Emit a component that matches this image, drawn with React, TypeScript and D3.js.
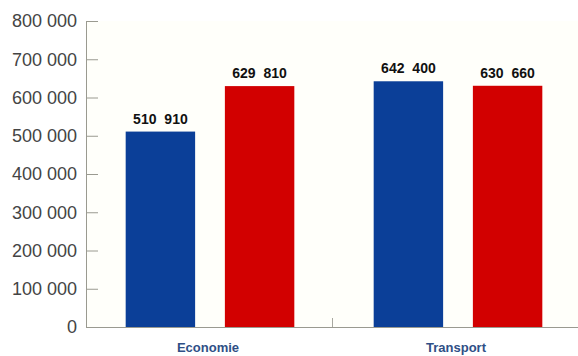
import React from "react";
import * as d3 from "d3";

const categories = ["Economie", "Transport"];
const series = ["A", "B"];
const seriesColors = ["#0b3f98", "#d20000"];
const valuesA = [510910, 642400];
const valuesB = [629810, 630660];
const yTicks = [0, 100000, 200000, 300000, 400000, 500000, 600000, 700000, 800000];

const W = 578;
const H = 356;
const left = 86;
const right = 582;
const top = 21;
const bottom = 327;

const fmt = (v: number) => d3.format(",")(v).replace(/,/g, " ");

export default function App() {
  const y = d3.scaleLinear().domain([0, 800000]).range([bottom, top]);
  const x = d3.scaleBand<string>().domain(categories).range([left, right]).padding(0);
  const xs = d3
    .scaleBand<string>()
    .domain(series)
    .range([0, x.bandwidth()])
    .paddingInner(0.3)
    .paddingOuter(0.4);
  const vals = [valuesA, valuesB];

  return (
    <svg
      width={W}
      height={H}
      style={{ position: "absolute", left: 0, top: 0, background: "#ffffff" }}
    >
      <rect x={left} y={top} width={W - left} height={bottom - top} fill="#fffffa" />
      {/* y axis */}
      <line x1={left + 0.5} x2={left + 0.5} y1={top} y2={bottom} stroke="#9a9a90" strokeWidth={1} />
      {yTicks.map((t) => (
        <g key={t}>
          {t > 0 && (
            <line x1={left} x2={left + 12} y1={y(t) + 0.5} y2={y(t) + 0.5} stroke="#9a9a90" strokeWidth={1} />
          )}
          <text
            x={77}
            y={y(t)}
            dy="0.36em"
            textAnchor="end"
            fontFamily="Liberation Sans, Arial, sans-serif"
            fontSize={18}
            fill="#444444"
          >
            {fmt(t)}
          </text>
        </g>
      ))}
      {/* x axis */}
      <line x1={left} x2={W} y1={bottom + 0.5} y2={bottom + 0.5} stroke="#9a9a90" strokeWidth={1.2} />
      <line
        x1={(x("Transport") as number) - 1.5}
        x2={(x("Transport") as number) - 1.5}
        y1={bottom - 9}
        y2={bottom}
        stroke="#a8a8a0"
        strokeWidth={1}
      />
      {categories.map((c, ci) => (
        <g key={c}>
          {series.map((s, si) => {
            const v = vals[si][ci];
            const bx = (x(c) as number) + (xs(s) as number);
            return (
              <g key={s}>
                <rect
                  x={bx}
                  y={y(v)}
                  width={xs.bandwidth()}
                  height={bottom - y(v)}
                  fill={seriesColors[si]}
                />
                <text
                  x={bx + xs.bandwidth() / 2}
                  y={y(v) - 8}
                  textAnchor="middle"
                  fontFamily="Liberation Sans, Arial, sans-serif"
                  fontWeight="bold"
                  fontSize={14}
                  wordSpacing={4}
                  fill="#111"
                >
                  {fmt(v)}
                </text>
              </g>
            );
          })}
          <text
            x={(x(c) as number) + x.bandwidth() / 2 - 2}
            y={352}
            textAnchor="middle"
            fontFamily="Liberation Sans, Arial, sans-serif"
            fontWeight="bold"
            fontSize={13}
            fill="#2f4f86"
          >
            {c}
          </text>
        </g>
      ))}
    </svg>
  );
}
